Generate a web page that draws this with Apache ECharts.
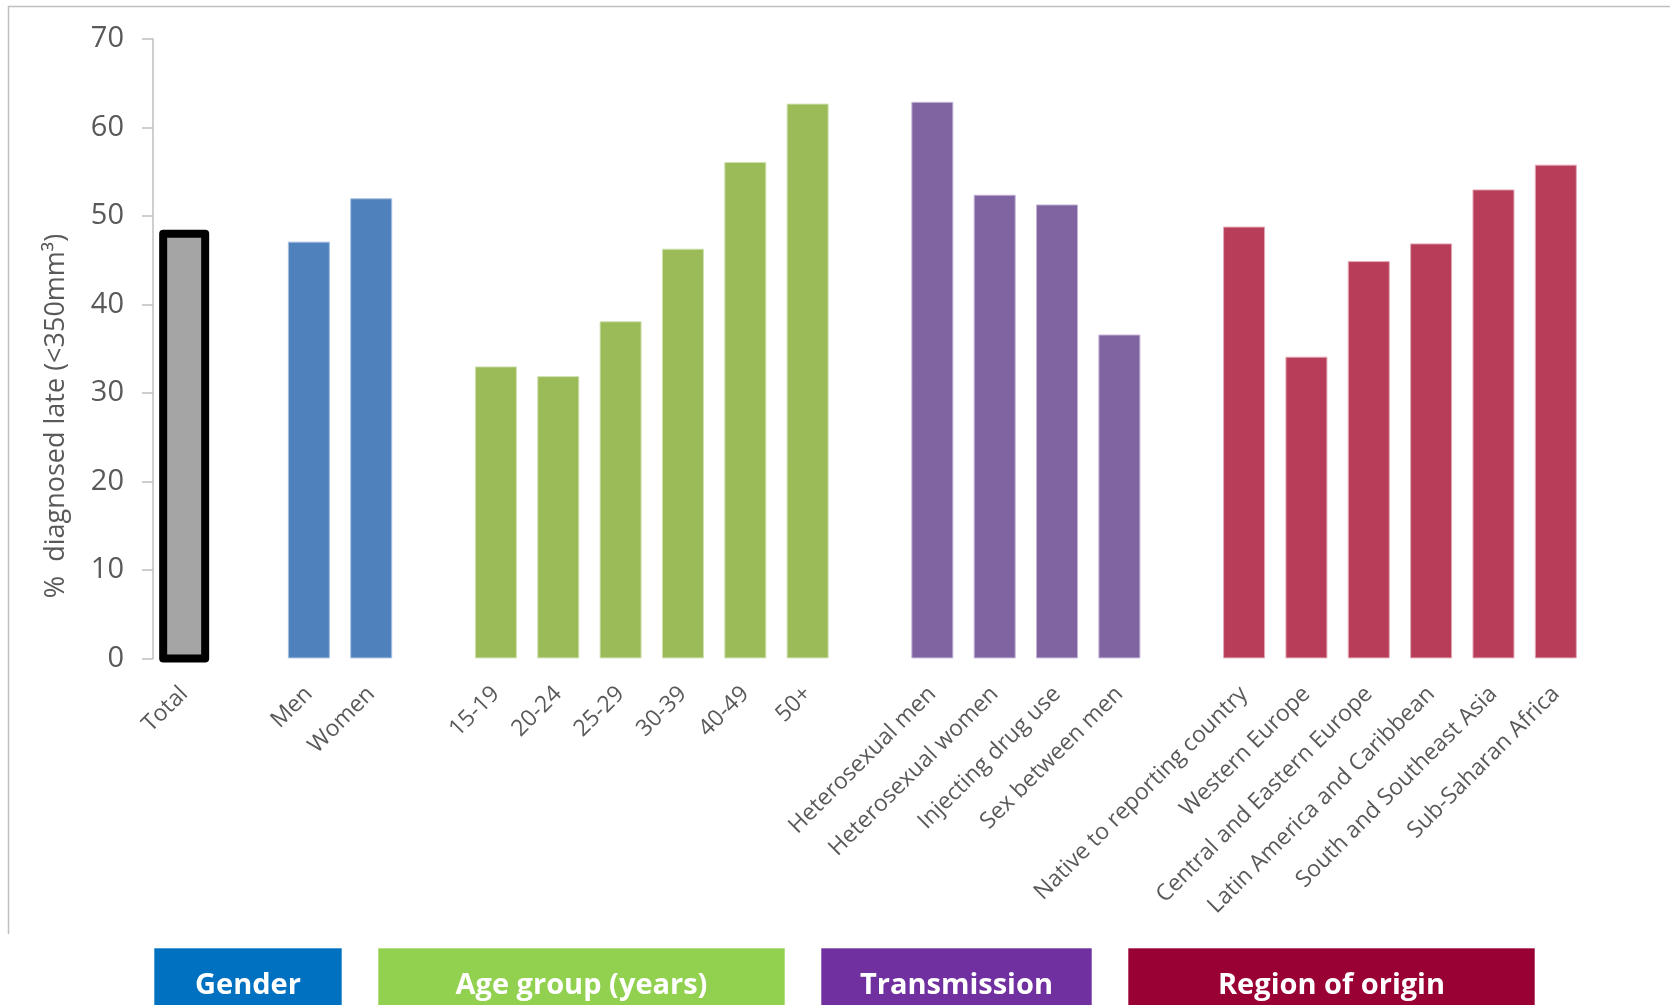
<!DOCTYPE html>
<html>
<head>
<meta charset="utf-8">
<title>Late HIV diagnosis by group</title>
<script src="https://cdn.jsdelivr.net/npm/echarts@6/dist/echarts.min.js"></script>
<style>
  html, body { margin: 0; padding: 0; background: #ffffff; }
  #chart { width: 1670px; height: 1005px; }
</style>
</head>
<body>
<div id="chart"></div>
<script>
// Percentage diagnosed late (CD4 < 350/mm3), by group
const totalLabels = ['Total'];
const totalValues = [48.0];

const genderLabels = ['Men', 'Women'];
const genderValues = [47.1, 52.0];

const ageLabels = ['15-19', '20-24', '25-29', '30-39', '40-49', '50+'];
const ageValues = [33.0, 31.9, 38.1, 46.3, 56.1, 62.7];

const transmissionLabels = ['Heterosexual men', 'Heterosexual women', 'Injecting drug use', 'Sex between men'];
const transmissionValues = [62.9, 52.4, 51.3, 36.6];

const regionLabels = ['Native to reporting country', 'Western Europe', 'Central and Eastern Europe',
  'Latin America and Caribbean', 'South and Southeast Asia', 'Sub-Saharan Africa'];
const regionValues = [48.8, 34.1, 44.9, 46.9, 53.0, 55.8];

const yTicks = [0, 10, 20, 30, 40, 50, 60, 70];

// Group banners under the axis
const bannerNames = ['Gender', 'Age group (years)', 'Transmission', 'Region of origin'];

const BAR_WIDTH = 42;

// Styling per group (the overall total is drawn separately with a heavy outline)
const groups = [
  { labels: totalLabels, values: totalValues, style: null },
  { labels: genderLabels, values: genderValues, style: { color: '#4F81BD', borderColor: '#A7C0E0', borderWidth: 1 } },
  { labels: ageLabels, values: ageValues, style: { color: '#9BBB59', borderColor: '#CFE0AE', borderWidth: 1 } },
  { labels: transmissionLabels, values: transmissionValues, style: { color: '#8064A2', borderColor: '#C3B3D6', borderWidth: 1 } },
  { labels: regionLabels, values: regionValues, style: { color: '#B83D58', borderColor: '#E3A9B6', borderWidth: 1 } }
];

// One empty slot between consecutive groups
const categories = [];
const barData = [];
const totalData = [];
groups.forEach((g, gi) => {
  if (gi > 0) { categories.push(''); barData.push('-'); }
  g.labels.forEach((lab, i) => {
    const idx = categories.length;
    categories.push(lab);
    if (g.style) {
      barData.push({ value: g.values[i], itemStyle: g.style });
    } else {
      barData.push('-');
      totalData.push([idx, g.values[i]]);
    }
  });
});

const bannerBoxes = [
  { name: bannerNames[0], x: 154, w: 188, color: '#0070C0' },
  { name: bannerNames[1], x: 378, w: 407, color: '#92D050' },
  { name: bannerNames[2], x: 821, w: 271, color: '#7030A0' },
  { name: bannerNames[3], x: 1128, w: 407, color: '#990033' }
];

const graphics = [
  // frame lines at top and left
  {
    type: 'polyline', silent: true,
    shape: { points: [[8.5, 934], [8.5, 6.5], [1670, 6.5]] },
    style: { stroke: '#C0C0C0', lineWidth: 1.5, fill: null }
  },
  // y axis title
  {
    type: 'text', silent: true,
    x: 56, y: 416, rotation: Math.PI / 2,
    style: {
      text: '%  diagnosed late (<350mm³)',
      font: '27px "Open Sans", sans-serif',
      fill: '#595959', align: 'center', verticalAlign: 'middle'
    }
  }
];
bannerBoxes.forEach(b => {
  graphics.push({
    type: 'rect', silent: true,
    shape: { x: b.x, y: 948, width: b.w, height: 70 },
    style: { fill: b.color, stroke: 'rgba(255,255,255,0.6)', lineWidth: 1 }
  });
  graphics.push({
    type: 'text', silent: true,
    x: b.x + b.w / 2, y: 986,
    style: {
      text: b.name,
      font: 'bold 29px "Open Sans", sans-serif',
      fill: '#ffffff', align: 'center', verticalAlign: 'middle'
    }
  });
});

const chart = echarts.init(document.getElementById('chart'), null, { renderer: 'canvas' });
chart.setOption({
  animation: false,
  backgroundColor: '#ffffff',
  grid: { left: 153, right: 83, top: 39, bottom: 346.6, containLabel: false, outerBoundsMode: 'none' },
  xAxis: {
    type: 'category',
    data: categories,
    axisLine: { show: false },
    axisTick: { show: false },
    axisLabel: {
      interval: 0,
      rotate: 45,
      margin: 32,
      fontFamily: '"Open Sans", sans-serif',
      fontSize: 23,
      color: '#595959'
    }
  },
  yAxis: {
    type: 'value',
    min: yTicks[0],
    max: yTicks[yTicks.length - 1],
    interval: 10,
    axisLine: { show: true, lineStyle: { color: '#BFBFBF', width: 1.5 } },
    axisTick: { show: true, inside: false, length: 11, lineStyle: { color: '#BFBFBF', width: 1.5 } },
    splitLine: { show: false },
    axisLabel: {
      margin: 29,
      fontFamily: '"Open Sans", sans-serif',
      fontSize: 29,
      color: '#595959'
    }
  },
  series: [
    {
      type: 'bar',
      data: barData,
      barWidth: BAR_WIDTH
    },
    {
      // overall total: grey bar with a heavy black outline centred on its edges
      type: 'custom',
      data: totalData,
      encode: { x: 0, y: 1 },
      renderItem: function (params, api) {
        const top = api.coord([api.value(0), api.value(1)]);
        const base = api.coord([api.value(0), 0]);
        return {
          type: 'rect',
          shape: { x: top[0] - BAR_WIDTH / 2, y: top[1], width: BAR_WIDTH, height: base[1] - top[1] },
          style: { fill: '#A5A5A5', stroke: '#000000', lineWidth: 8, lineJoin: 'round' }
        };
      }
    }
  ],
  graphic: graphics
});
</script>
</body>
</html>
